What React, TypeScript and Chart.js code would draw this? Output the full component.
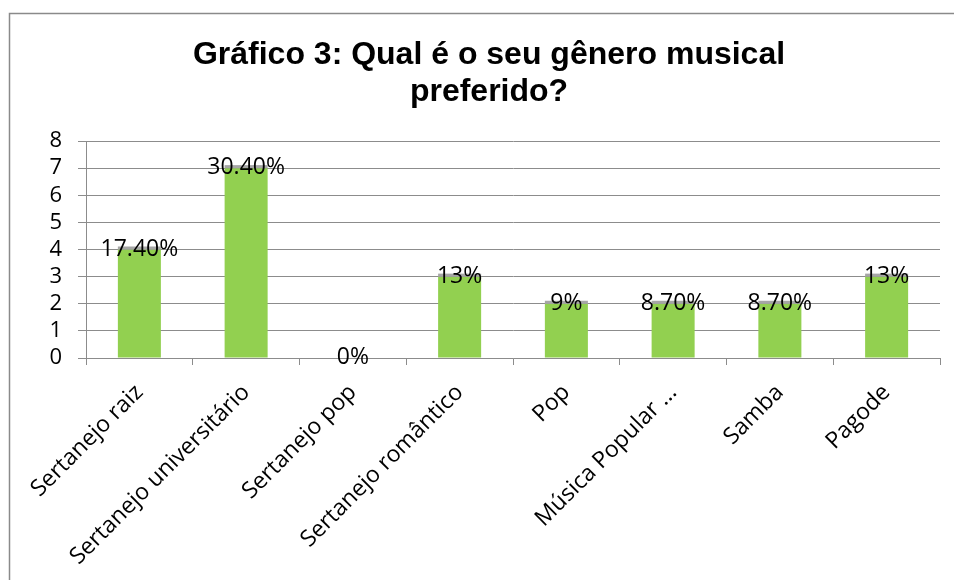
import React, { useEffect, useRef } from "react";
import { Chart, registerables } from "chart.js";

Chart.register(...registerables);

const titleLines = ["Gráfico 3: Qual é o seu gênero musical", "preferido?"];
const categories = [
  "Sertanejo raiz",
  "Sertanejo universitário",
  "Sertanejo pop",
  "Sertanejo romântico",
  "Pop",
  "Música Popular ...",
  "Samba",
  "Pagode",
];
const counts = [4, 7, 0, 3, 2, 2, 2, 3];
const percentLabels = ["17.40%", "30.40%", "0%", "13%", "9%", "8.70%", "8.70%", "13%"];
const yTicks = [0, 1, 2, 3, 4, 5, 6, 7, 8];

const GRID = "#8c8c8c";
const BAR = "#92d050";
const CAP = "#a6a6a6";

export default function App() {
  const ref = useRef<HTMLCanvasElement>(null);

  useEffect(() => {
    if (!ref.current) return;

    const framePlugin = {
      id: "frame",
      beforeDraw(chart: any) {
        const ctx = chart.ctx;
        ctx.save();
        ctx.fillStyle = "#ffffff";
        ctx.fillRect(0, 0, chart.width, chart.height);
        ctx.strokeStyle = "#8a8a8a";
        ctx.lineWidth = 1.5;
        ctx.beginPath();
        ctx.moveTo(9.5, chart.height + 5);
        ctx.lineTo(9.5, 13.5);
        ctx.lineTo(chart.width + 5, 13.5);
        ctx.stroke();
        ctx.restore();
      },
      afterDraw(chart: any) {
        const ctx = chart.ctx;
        ctx.save();
        ctx.fillStyle = "#000000";
        ctx.font = "bold 32px 'Liberation Sans', Arial, sans-serif";
        ctx.textAlign = "center";
        ctx.textBaseline = "alphabetic";
        ctx.fillText(titleLines[0], 489, 64);
        ctx.fillText(titleLines[1], 489, 101);
        ctx.restore();
      },
    };

    const labelPlugin = {
      id: "barLabels",
      afterDatasetsDraw(chart: any) {
        const ctx = chart.ctx;
        const meta = chart.getDatasetMeta(0);
        ctx.save();
        meta.data.forEach((bar: any, i: number) => {
          if (counts[i] > 0) {
            ctx.fillStyle = CAP;
            ctx.fillRect(bar.x - bar.width / 2, bar.y - 3, bar.width, 3);
          }
        });
        ctx.fillStyle = "#000000";
        ctx.font = "23px 'Open Sans', sans-serif";
        ctx.textAlign = "center";
        ctx.textBaseline = "alphabetic";
        meta.data.forEach((bar: any, i: number) => {
          ctx.fillText(percentLabels[i], bar.x, bar.y + 6);
        });
        ctx.restore();
      },
    };

    const chart = new Chart(ref.current, {
      type: "bar",
      data: {
        labels: categories,
        datasets: [
          {
            data: counts,
            backgroundColor: BAR,
            borderWidth: 0,
            categoryPercentage: 1,
            barPercentage: 0.403,
          },
        ],
      },
      options: {
        animation: false,
        responsive: false,
        maintainAspectRatio: false,
        layout: { padding: { top: 141, left: 0, right: 14, bottom: 0 } },
        plugins: {
          legend: { display: false },
          title: { display: false },
          tooltip: { enabled: false },
        },
        scales: {
          x: {
            afterFit(scale: any) {
              scale.height = 222;
            },
            grid: {
              offset: true,
              drawOnChartArea: false,
              drawTicks: true,
              tickLength: 7,
              color: GRID,
            },
            border: { color: GRID, width: 1 },
            ticks: {
              autoSkip: false,
              minRotation: 45,
              maxRotation: 45,
              padding: 14,
              color: "#000000",
              font: { family: "'Open Sans', sans-serif", size: 23 },
            },
          },
          y: {
            min: 0,
            max: 8,
            afterFit(scale: any) {
              scale.width = 86;
            },
            afterBuildTicks(scale: any) {
              scale.ticks = yTicks.map((v) => ({ value: v }));
            },
            grid: { color: GRID, tickLength: 8, lineWidth: 1 },
            border: { color: GRID, width: 1 },
            ticks: {
              autoSkip: false,
              stepSize: 1,
              padding: 16,
              color: "#000000",
              font: { family: "'Open Sans', sans-serif", size: 22 },
            },
          },
        },
      },
      plugins: [framePlugin, labelPlugin],
    });

    return () => chart.destroy();
  }, []);

  return (
    <div style={{ position: "fixed", left: 0, top: 0, width: 954, height: 580, background: "#fff" }}>
      <canvas ref={ref} width={954} height={580} style={{ display: "block", width: 954, height: 580 }} />
    </div>
  );
}
